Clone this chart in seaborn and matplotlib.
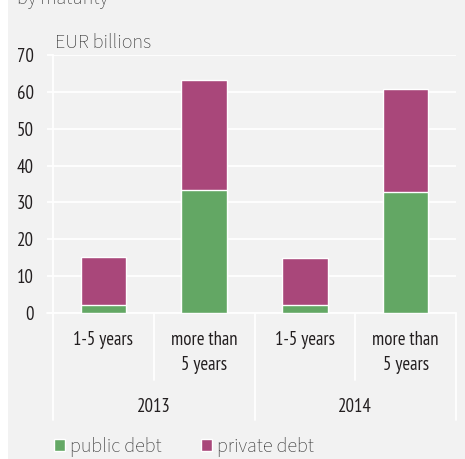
import matplotlib
matplotlib.use("Agg")
import matplotlib.pyplot as plt
from matplotlib.patches import Patch, Rectangle
from matplotlib.transforms import blended_transform_factory
import pandas as pd
import seaborn as sns

# Debt securities by maturity, EUR billions
years = ["2013", "2014"]
maturities = ["1-5 years", "more than\n5 years"]
public_debt = [2.3, 33.4, 2.2, 32.8]
private_debt = [13.0, 29.8, 12.6, 28.0]
y_ticks = [0, 10, 20, 30, 40, 50, 60, 70]

BG = "#f2f2f2"
GREEN = "#63a764"
PURPLE = "#a9477a"
TEXT = "#231f20"
SOFT = "#3a3a3a"

slots = [f"{y} {m}" for y in years for m in maturities]
df = pd.DataFrame({
    "slot": slots,
    "year": [y for y in years for _ in maturities],
    "maturity": [m for _ in years for m in maturities],
    "public": public_debt,
    "private": private_debt,
})
df["total"] = df["public"] + df["private"]

sns.set_theme(style="white")
plt.rcParams["font.family"] = ["PT Sans Narrow", "DejaVu Sans"]
LIGHT = dict(family=["Source Sans 3", "DejaVu Sans"], weight="light")
FS = 13.5

W, H = 465, 459
fig = plt.figure(figsize=(W / 100, H / 100), dpi=100, facecolor=BG)
fig.patches.append(Rectangle((0, 0), 8 / W, 1, transform=fig.transFigure,
                             facecolor="white", edgecolor="none", zorder=-1))

left, right, top, bottom = 53, 456, 55, 313
ax = fig.add_axes([left / W, (H - bottom) / H, (right - left) / W, (bottom - top) / H])
ax.set_facecolor(BG)

# stacked bars: total in purple, public share overlaid in green
sns.barplot(data=df, x="slot", y="total", order=slots, color=PURPLE,
            width=0.45, saturation=1, ax=ax, zorder=3)
sns.barplot(data=df, x="slot", y="public", order=slots, color=GREEN,
            width=0.45, saturation=1, ax=ax, zorder=4)

ax.set_xlim(-0.5, len(slots) - 0.5)
ax.set_ylim(0, 70)
ax.set_yticks(y_ticks)
ax.set_yticklabels([str(t) for t in y_ticks], fontsize=FS, color=TEXT)
ax.set_xticks([])
ax.set_xlabel("")
ax.set_ylabel("")
ax.grid(axis="y", color="white", linewidth=1.3, zorder=0)
ax.tick_params(axis="y", length=4.5, width=1.3, color="white", pad=9.5, left=True)
for s in ["top", "right", "bottom"]:
    ax.spines[s].set_visible(False)
ax.spines["left"].set_color("white")
ax.spines["left"].set_linewidth(1.3)

tr = blended_transform_factory(ax.transData, ax.transAxes)
ph = bottom - top


def yfrac(px):
    return (bottom - px) / ph


# group separators below the axis
for xpos, low in [(-0.5, 420), (0.5, 380), (1.5, 420), (2.5, 380), (3.5, 420)]:
    ax.plot([xpos, xpos], [0, yfrac(low)], transform=tr, color="white",
            lw=1.3, clip_on=False, zorder=1)
ax.plot([-0.56, 3.5], [0, 0], transform=tr, color="white", lw=1.3,
        clip_on=False, zorder=1)

for i, row in df.iterrows():
    for j, line in enumerate(row["maturity"].split("\n")):
        ax.text(i, yfrac(340 + 25 * j), line, transform=tr, ha="center",
                va="center", fontsize=FS, color=TEXT)
for k, y in enumerate(years):
    ax.text(2 * k + 0.5, yfrac(407), y, transform=tr, ha="center",
            va="center", fontsize=FS, color=TEXT)

fig.text(55 / W, 1 - 43 / H, "EUR billions", ha="left", va="center",
         fontsize=14.5, color=SOFT, **LIGHT)
fig.text(17 / W, 1 - 4 / H, "by maturity", ha="left", va="baseline",
         fontsize=14.5, color=SOFT, **LIGHT)

handles = [Patch(facecolor=GREEN, label="public debt"),
           Patch(facecolor=PURPLE, label="private debt")]
fig.legend(handles=handles, loc="center left",
           bbox_to_anchor=(54 / W, 1 - 447 / H), ncol=2, frameon=False,
           handlelength=0.55, handleheight=0.55, handletextpad=0.25,
           columnspacing=1.95, borderaxespad=0, borderpad=0,
           prop=dict(family=["Source Sans 3", "DejaVu Sans"], weight="light", size=14.5),
           labelcolor=SOFT)

fig.savefig("out.png", dpi=100, facecolor=BG)
